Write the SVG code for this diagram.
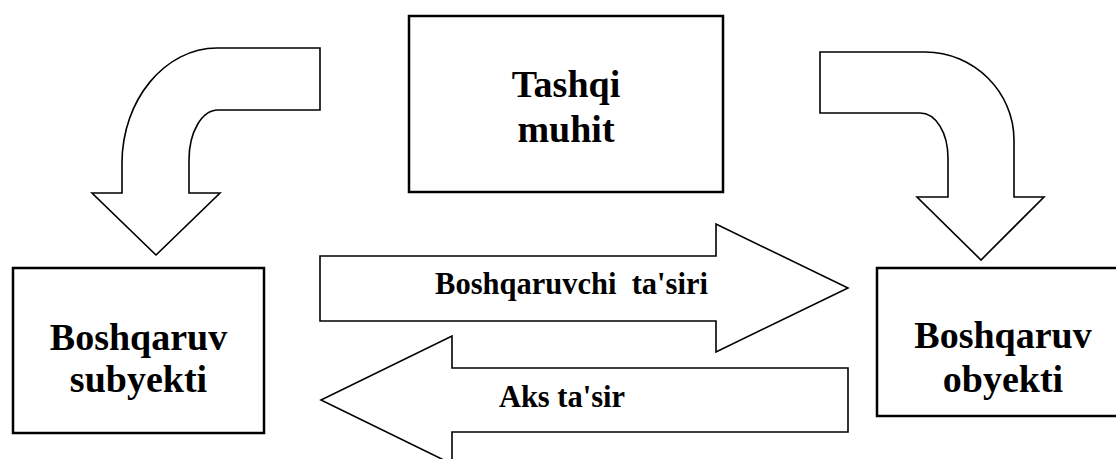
<svg xmlns="http://www.w3.org/2000/svg" width="1116" height="459" viewBox="0 0 1116 459">
  <style>
    .box { fill: #ffffff; stroke: #000000; stroke-width: 2.5; }
    .arrow { fill: #ffffff; stroke: #000000; stroke-width: 1.6; stroke-linejoin: miter; }
    .label { font-family: "Liberation Serif", "Times New Roman", serif; font-weight: bold; fill: #000000; text-anchor: middle; white-space: pre; }
    .big { font-size: 38px; }
    .small { font-size: 30.5px; }
  </style>
  <rect width="1116" height="459" fill="#ffffff"/>

  <!-- connectors: bent and straight block arrows -->
  <g id="connectors">
    <!-- from the environment down onto the subject -->
    <path class="arrow" d="M320,48 L217,48 C165,48 122,100 122,163 L122,193 L92,193 L156,255 L220,193 L189,193 L189,160 C189,132 202,110 218,110 L320,110 Z"/>
    <!-- from the environment down onto the object -->
    <path class="arrow" d="M820,52 L925,52 C974,52 1014,92 1014,140 L1014,197 L1044,197 L981,260 L917,197 L948,197 L948,158 C948,133 936,113 920,113 L820,113 Z"/>
    <!-- controlling influence -->
    <path class="arrow" d="M320,256 L716,256 L716,224 L848,288 L716,352 L716,321 L320,321 Z"/>
    <!-- feedback -->
    <path class="arrow" d="M848,368 L452,368 L452,336 L321,400 L452,464 L452,432 L848,432 Z"/>
    <text class="label small" x="571.5" y="294" xml:space="preserve">Boshqaruvchi  ta'siri</text>
    <text class="label small" x="562" y="407">Aks ta'sir</text>
  </g>

  <g id="tashqi-muhit">
    <rect class="box" x="409" y="16" width="314" height="176"/>
    <text class="label big" x="566" y="97">Tashqi</text>
    <text class="label big" x="566" y="142">muhit</text>
  </g>

  <g id="boshqaruv-subyekti">
    <rect class="box" x="13" y="268" width="251" height="165"/>
    <text class="label big" x="138.5" y="350">Boshqaruv</text>
    <text class="label big" x="138.5" y="392">subyekti</text>
  </g>

  <g id="boshqaruv-obyekti">
    <rect class="box" x="877" y="268" width="250" height="148"/>
    <text class="label big" x="1003" y="348">Boshqaruv</text>
    <text class="label big" x="1003" y="392">obyekti</text>
  </g>
</svg>
